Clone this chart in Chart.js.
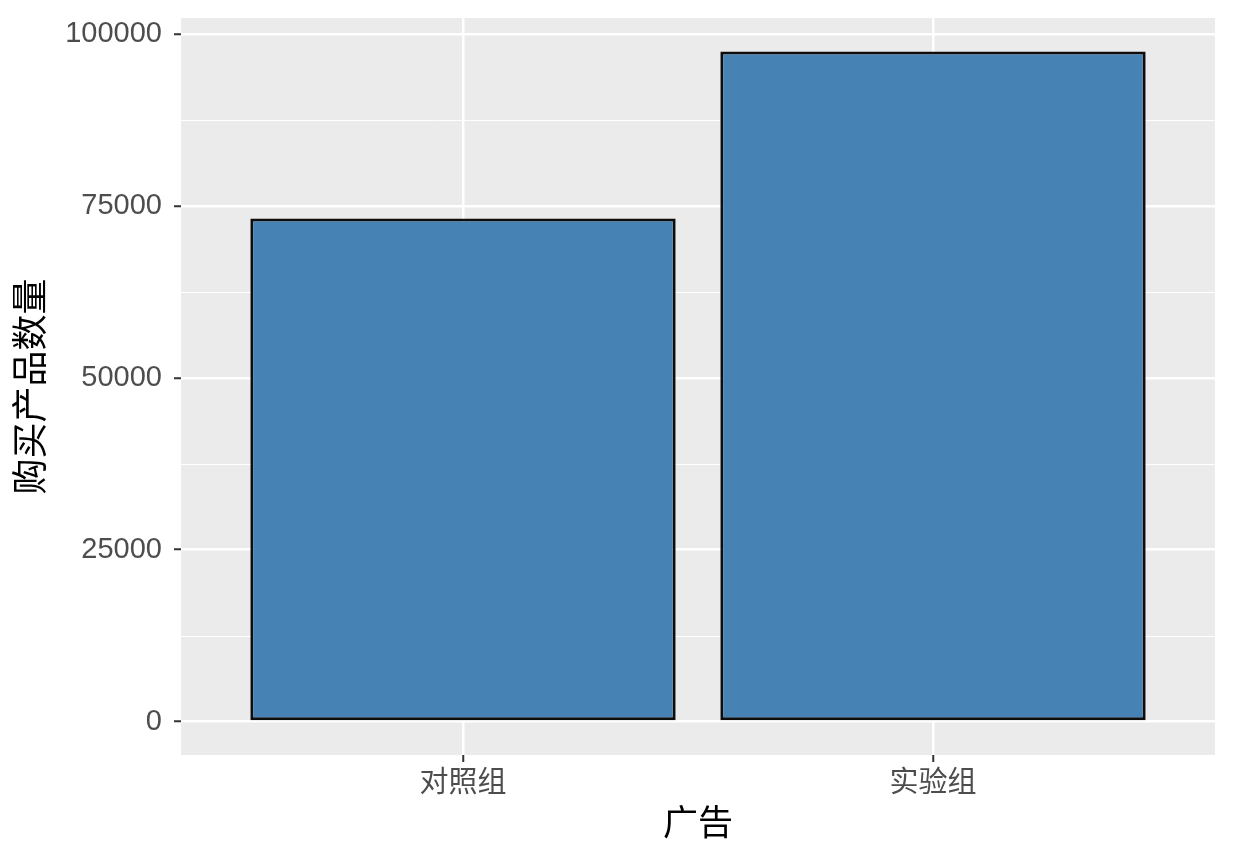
<!DOCTYPE html>
<html>
<head>
<meta charset="utf-8">
<script src="https://cdn.jsdelivr.net/npm/chart.js@4"></script>
<style>
  html, body { margin: 0; padding: 0; background: #fff; }
  #wrap { width: 1234px; height: 864px; }
</style>
</head>
<body>
<div id="wrap"><canvas id="c" width="1234" height="864"></canvas></div>
<script>
const categories = ['对照组', '实验组'];
const values = [73200, 97500];
const yTicks = [0, 25000, 50000, 75000, 100000];
const yMinorTicks = [12500, 37500, 62500, 87500];
const yRange = [-4875, 102375];
const xRange = [0.4, 2.6];
const xTitle = '广告';
const yTitle = '购买产品数量';

const FONT = '"Liberation Sans", Arial, "Noto Sans CJK SC", sans-serif';

const panelPlugin = {
  id: 'panel',
  beforeDraw(chart) {
    const { ctx, chartArea: a, scales } = chart;
    ctx.save();
    ctx.fillStyle = '#EBEBEB';
    ctx.fillRect(a.left, a.top, a.right - a.left, a.bottom - a.top);
    ctx.strokeStyle = '#FFFFFF';
    ctx.lineWidth = 1;
    for (const v of yMinorTicks) {
      const y = Math.round(scales.y.getPixelForValue(v)) + 0.5;
      ctx.beginPath();
      ctx.moveTo(a.left, y);
      ctx.lineTo(a.right, y);
      ctx.stroke();
    }
    ctx.restore();
  }
};

new Chart(document.getElementById('c'), {
  type: 'bar',
  data: {
    datasets: [{
      data: categories.map((c, i) => ({ x: i + 1, y: values[i] })),
      backgroundColor: '#4682B4',
      borderColor: '#0d0d0d',
      borderWidth: 3,
      borderSkipped: false,
      barPercentage: 0.905,
      categoryPercentage: 1.0
    }]
  },
  options: {
    responsive: false,
    animation: false,
    devicePixelRatio: 1,
    layout: { padding: { top: 18, right: 19, left: 0, bottom: 0 } },
    plugins: { legend: { display: false }, tooltip: { enabled: false } },
    scales: {
      x: {
        type: 'linear',
        min: xRange[0],
        max: xRange[1],
        offset: false,
        afterBuildTicks(scale) { scale.ticks = categories.map((c, i) => ({ value: i + 1 })); },
        afterFit(scale) { scale.height = 109; scale.paddingLeft = 0; scale.paddingRight = 0; },
        grid: {
          color: '#FFFFFF', lineWidth: 2.5, drawTicks: true, tickLength: 7,
          tickColor: '#333333', tickWidth: 2, offset: false
        },
        border: { display: false },
        ticks: {
          autoSkip: false, maxRotation: 0, padding: 5,
          color: '#4D4D4D',
          font: { family: FONT, size: 29 },
          callback: (v) => categories[v - 1] ?? ''
        },
        title: {
          display: true, text: xTitle, color: '#000000',
          font: { family: FONT, size: 35 },
          padding: { top: 0, bottom: 18 }
        }
      },
      y: {
        type: 'linear',
        min: yRange[0],
        max: yRange[1],
        afterBuildTicks(scale) { scale.ticks = yTicks.map(v => ({ value: v })); },
        afterFit(scale) { scale.width = 181; scale.paddingTop = 0; scale.paddingBottom = 0; },
        grid: {
          color: '#FFFFFF', lineWidth: 2.5, drawTicks: true, tickLength: 7,
          tickColor: '#333333', tickWidth: 2
        },
        border: { display: false },
        ticks: {
          padding: 12,
          color: '#4D4D4D',
          font: { family: FONT, size: 29 },
          callback: (v) => String(v)
        },
        title: {
          display: true, text: yTitle, color: '#000000',
          font: { family: FONT, size: 36 },
          padding: { top: 11, bottom: 0 }
        }
      }
    }
  },
  plugins: [panelPlugin]
});
</script>
</body>
</html>
